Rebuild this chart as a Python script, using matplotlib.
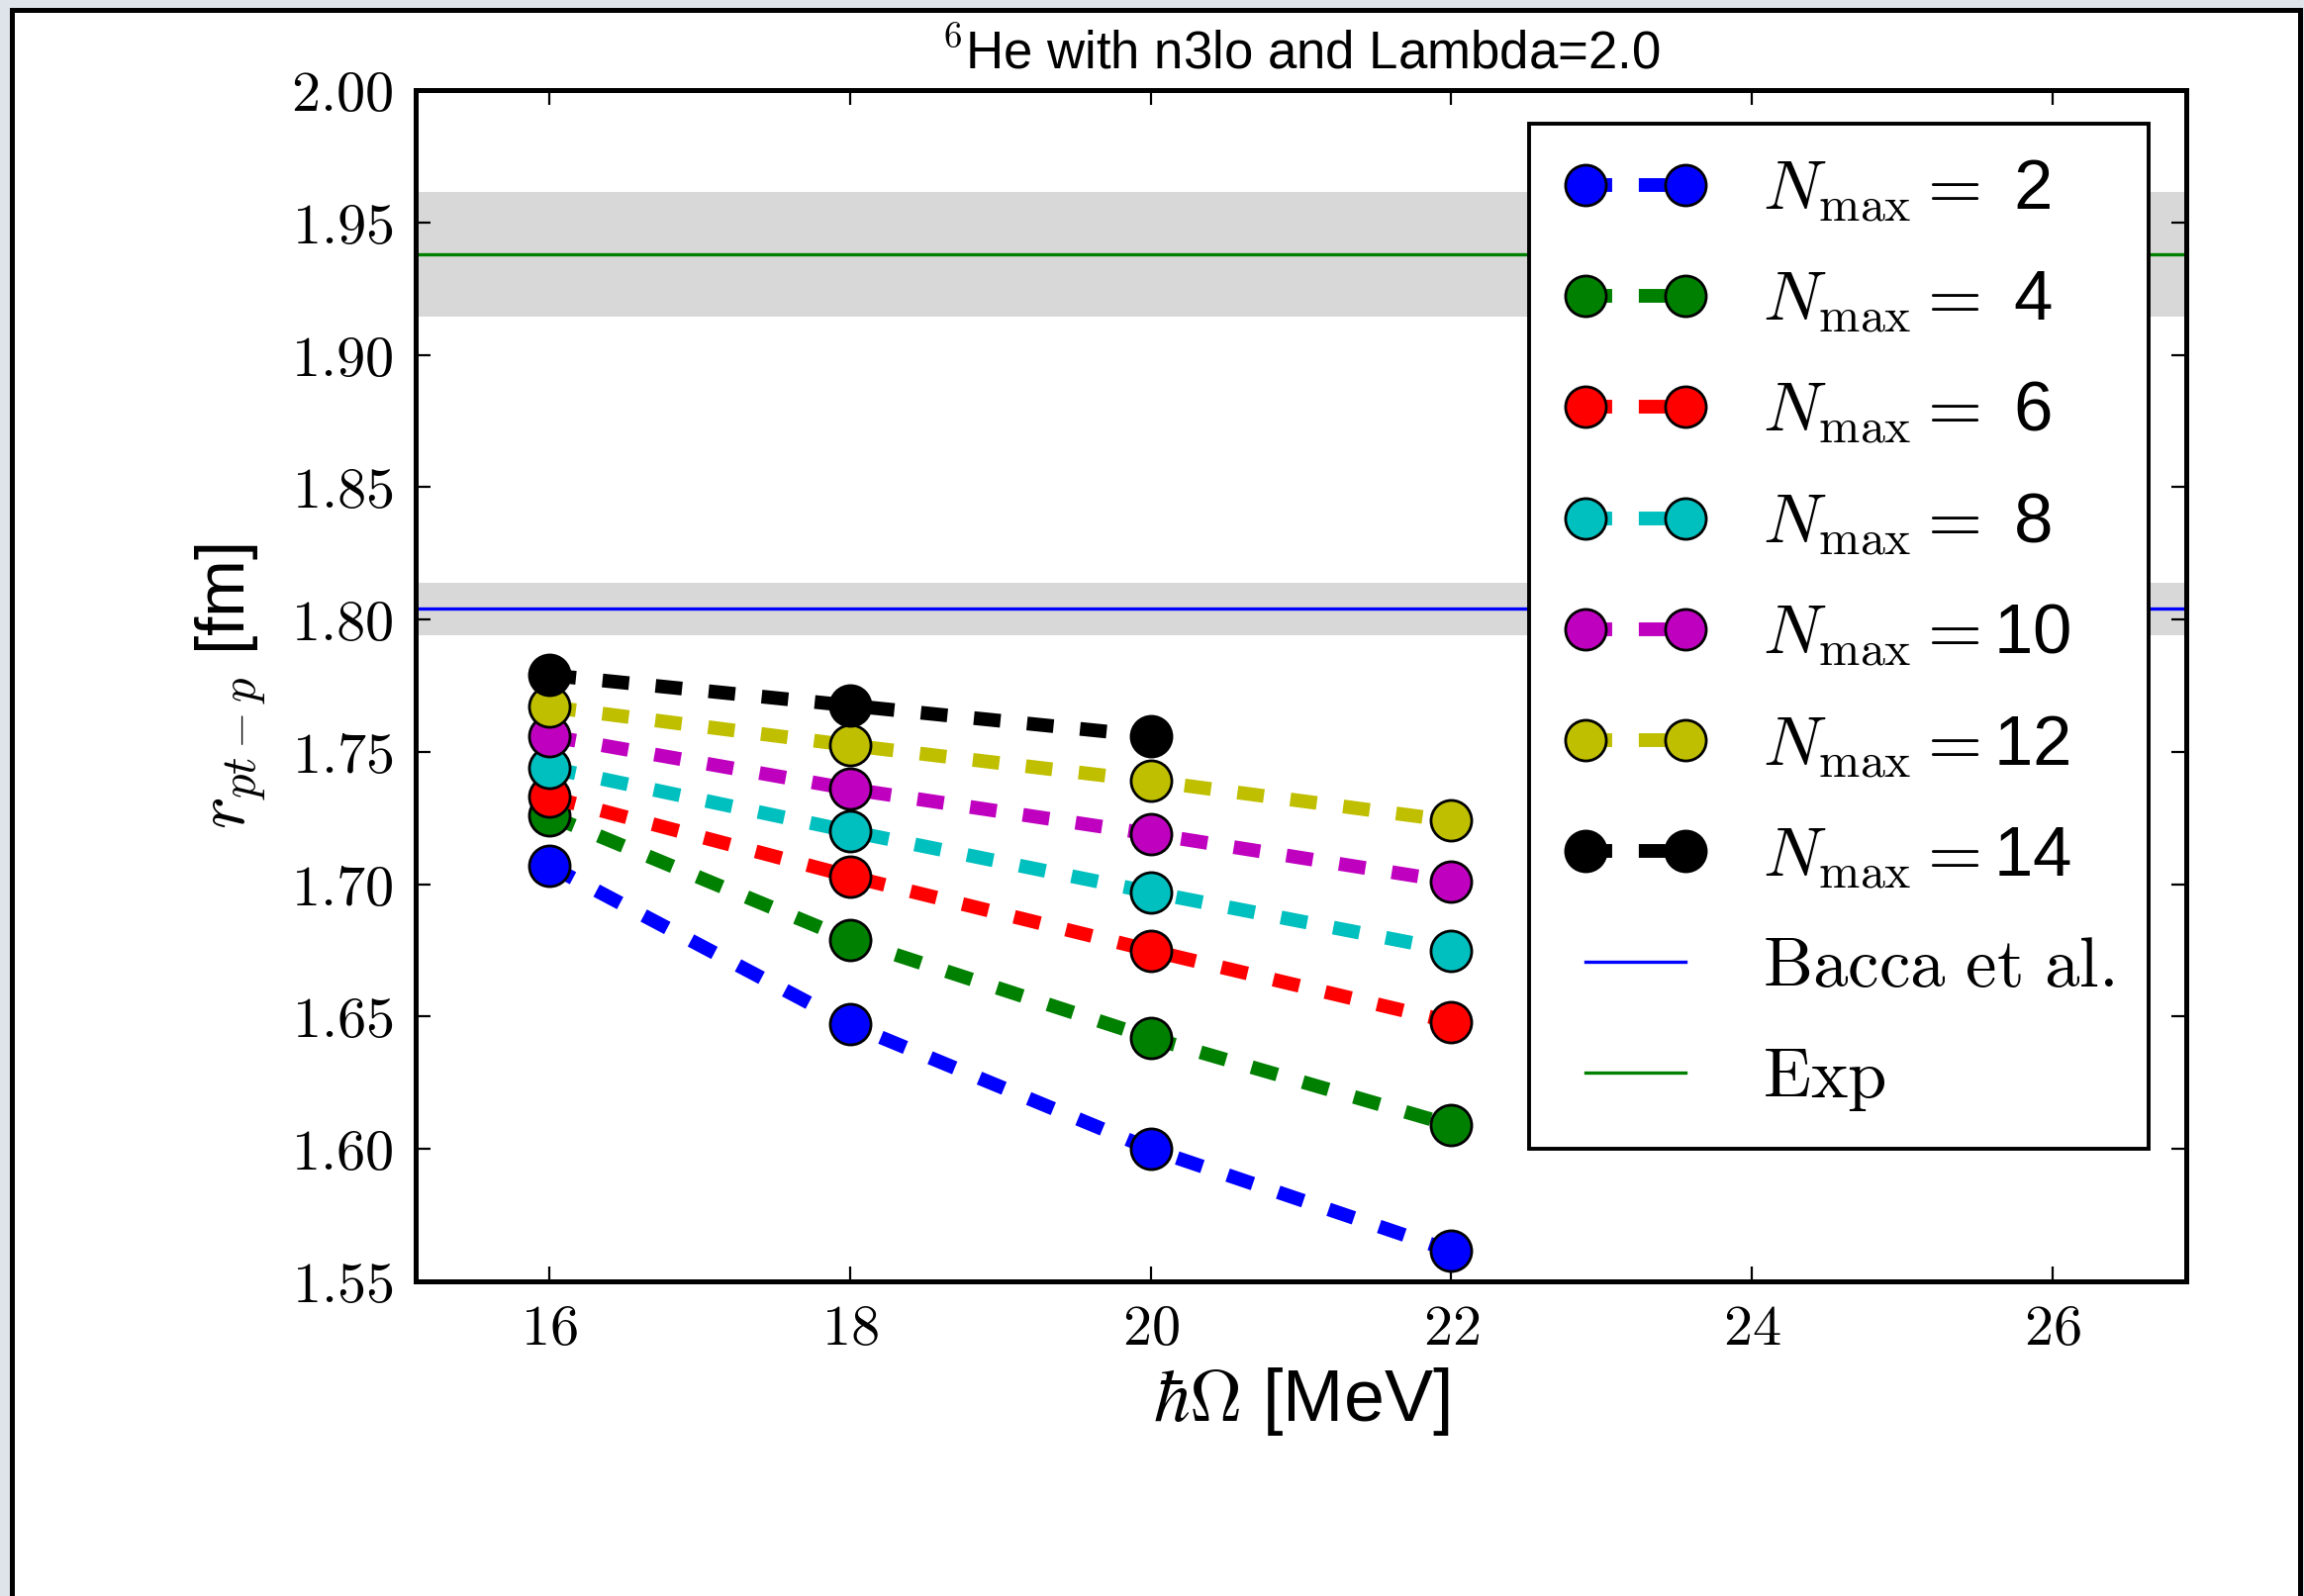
import matplotlib
matplotlib.use("Agg")
import matplotlib.pyplot as plt
from matplotlib.patches import Rectangle
from matplotlib.ticker import FuncFormatter, MultipleLocator

# ---------------- data ----------------
hw = [16, 18, 20, 22]
nmax_values = [2, 4, 6, 8, 10, 12, 14]
r_n2 = [1.707, 1.647, 1.600, 1.5615]
r_n4 = [1.726, 1.679, 1.642, 1.609]
r_n6 = [1.733, 1.703, 1.675, 1.648]
r_n8 = [1.744, 1.720, 1.697, 1.675]
r_n10 = [1.756, 1.736, 1.719, 1.701]
r_n12 = [1.767, 1.7525, 1.739, 1.724]
r_n14 = [1.779, 1.7675, 1.756]
series = [r_n2, r_n4, r_n6, r_n8, r_n10, r_n12, r_n14]
colors = ['b', 'g', 'r', 'c', 'm', 'y', 'k']

bacca_val, bacca_err = 1.804, 0.0098
exp_val, exp_err = 1.938, 0.0235

# ---------------- style ----------------
plt.rcParams['mathtext.fontset'] = 'cm'
plt.rcParams['font.family'] = ['Liberation Sans', 'DejaVu Sans']
plt.rcParams['lines.scale_dashes'] = False

W, H, DPI = 2328, 1613, 200
fig = plt.figure(figsize=(W / DPI, H / DPI), dpi=DPI)
fig.patch.set_facecolor('#dfe4ea')
fig.patches.append(Rectangle((12 / W, -0.05), (2324 - 12) / W, (H - 10) / H + 0.05,
                             transform=fig.transFigure, facecolor='white',
                             edgecolor='black', linewidth=1.8, zorder=-10))

ax = fig.add_axes([420 / W, 1 - 1295 / H, (2209 - 420) / W, (1295 - 91) / H])

ax.axhspan(exp_val - exp_err, exp_val + exp_err, color='#d8d8d8', lw=0, zorder=0)
ax.axhspan(bacca_val - bacca_err, bacca_val + bacca_err, color='#d8d8d8', lw=0, zorder=0)

for n, ys, c in zip(nmax_values, series, colors):
    if n < 10:
        lab = r'$N_{\rm max}=$ ' + str(n)
    else:
        lab = r'$N_{\rm max}=$' + str(n)
    ax.plot(hw[:len(ys)], ys, color=c, ls='--', dashes=(9.7, 9.7), lw=5.0,
            marker='o', ms=14.8, mfc=c, mec='k', mew=1.0, label=lab, zorder=3)

ax.axhline(bacca_val, color='b', lw=1.2, label=r'$\rm Bacca\ et\ al.$', zorder=2)
ax.axhline(exp_val, color='g', lw=1.2, label=r'$\rm Exp$', zorder=2)

ax.set_xlim(15.11, 26.89)
ax.set_ylim(1.55, 2.00)
ax.xaxis.set_major_locator(MultipleLocator(2))
ax.yaxis.set_major_locator(MultipleLocator(0.05))
ax.xaxis.set_major_formatter(FuncFormatter(lambda v, p: r'$%d$' % round(v)))
ax.yaxis.set_major_formatter(FuncFormatter(lambda v, p: r'$%.2f$' % v))
ax.tick_params(direction='in', length=5.4, width=0.8, labelsize=21,
               top=True, right=True, pad=8)
for s in ax.spines.values():
    s.set_linewidth(1.8)

ax.set_title(r'$^6$He with n3lo and Lambda=2.0', fontsize=19, pad=8)
ax.set_xlabel(r'$\hbar\Omega$ [MeV]', fontsize=26.5, labelpad=3)
ax.set_ylabel(r'$r_{pt-p}$ [fm]', fontsize=25, labelpad=8)

leg = ax.legend(loc='upper right', bbox_to_anchor=(0.979, 0.972), borderaxespad=0,
                numpoints=2, fontsize=25.5, handlelength=2.03, handletextpad=0.8,
                labelspacing=0.65, borderpad=0.5, fancybox=False, framealpha=1)
leg.get_frame().set_edgecolor('k')
leg.get_frame().set_linewidth(1.4)

fig.savefig('out.png', dpi=DPI, facecolor=fig.get_facecolor())
